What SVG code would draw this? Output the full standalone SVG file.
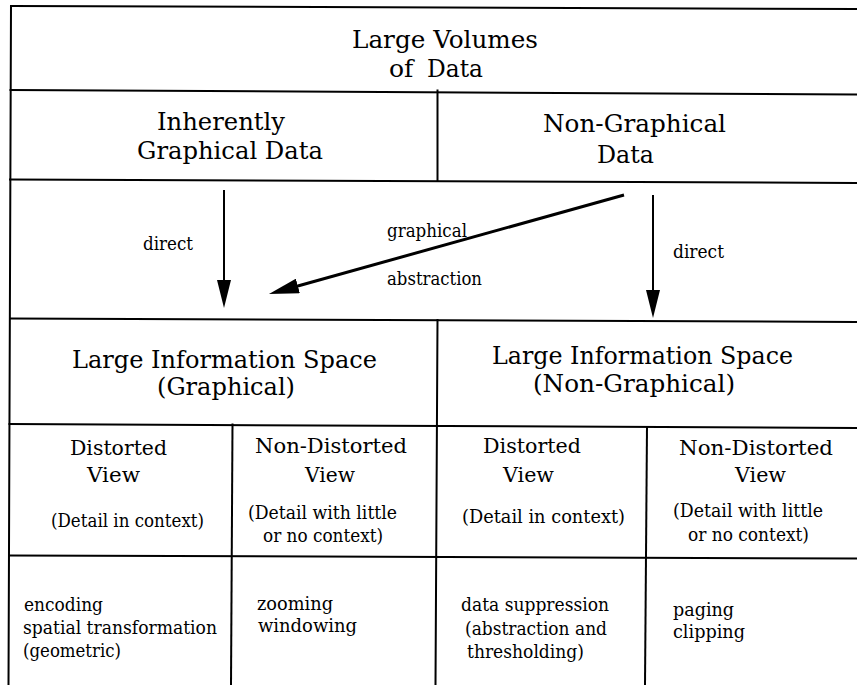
<svg xmlns="http://www.w3.org/2000/svg" width="857" height="685" viewBox="0 0 857 685">
<style>
text{font-family:"DejaVu Serif","Liberation Serif",serif;fill:#000}
.lg{font-size:25px}
.md{font-size:21px}
.sm{font-size:18px}
.grid line{stroke:#000;stroke-width:2;stroke-linecap:square}
.conn line{stroke:#000;stroke-width:2}
.conn line.thick{stroke-width:3}
</style>
<defs>
<marker id="ah" viewBox="0 0 28 14" refX="1" refY="7" markerWidth="28" markerHeight="14" markerUnits="userSpaceOnUse" orient="auto"><path d="M0,0 L28,7 L0,14 z" fill="#000"/></marker>
<marker id="ahL" viewBox="0 0 30 15" refX="1" refY="7.5" markerWidth="30" markerHeight="15" markerUnits="userSpaceOnUse" orient="auto"><path d="M0,0 L30,7.5 L0,15 z" fill="#000"/></marker>
</defs>
<rect width="857" height="685" fill="#fff"/>
<g id="grid" class="grid">
<line x1="11" y1="6" x2="857" y2="9"/>
<line x1="10.5" y1="90" x2="857" y2="94.5"/>
<line x1="10" y1="179.5" x2="857" y2="183"/>
<line x1="10" y1="318.5" x2="857" y2="322"/>
<line x1="9.5" y1="424" x2="857" y2="428"/>
<line x1="9" y1="555.5" x2="857" y2="558.5"/>
<line x1="11" y1="6" x2="8.5" y2="685"/>
<line x1="437.5" y1="90.5" x2="437.5" y2="181"/>
<line x1="437.5" y1="320" x2="435.5" y2="685"/>
<line x1="232.5" y1="424.5" x2="231" y2="685"/>
<line x1="647" y1="427" x2="645" y2="685"/>
</g>
<g id="large-volumes">
<text class="lg" x="352" y="48" textLength="186" lengthAdjust="spacingAndGlyphs">Large Volumes</text>
<text class="lg" x="389" y="77">of <tspan x="427" textLength="56" lengthAdjust="spacingAndGlyphs">Data</tspan></text>
</g>
<g id="inherently-graphical">
<text class="lg" x="157" y="130" textLength="128" lengthAdjust="spacingAndGlyphs">Inherently</text>
<text class="lg" x="137" y="159" textLength="186" lengthAdjust="spacingAndGlyphs">Graphical Data</text>
</g>
<g id="non-graphical-data">
<text class="lg" x="543" y="132" textLength="183" lengthAdjust="spacingAndGlyphs">Non-Graphical</text>
<text class="lg" x="597" y="163" textLength="57" lengthAdjust="spacingAndGlyphs">Data</text>
</g>
<g id="info-graphical">
<text class="lg" x="72" y="368" textLength="305" lengthAdjust="spacingAndGlyphs">Large Information Space</text>
<text class="lg" x="157" y="395" textLength="138" lengthAdjust="spacingAndGlyphs">(Graphical)</text>
</g>
<g id="info-non-graphical">
<text class="lg" x="492" y="364" textLength="301" lengthAdjust="spacingAndGlyphs">Large Information Space</text>
<text class="lg" x="533" y="392" textLength="202" lengthAdjust="spacingAndGlyphs">(Non-Graphical)</text>
</g>
<g id="g-distorted">
<text class="md" x="70" y="455" textLength="97" lengthAdjust="spacingAndGlyphs">Distorted</text>
<text class="md" x="87" y="482" textLength="53" lengthAdjust="spacingAndGlyphs">View</text>
<text class="sm" x="51" y="527" textLength="153" lengthAdjust="spacingAndGlyphs">(Detail in context)</text>
</g>
<g id="g-non-distorted">
<text class="md" x="255" y="453" textLength="152" lengthAdjust="spacingAndGlyphs">Non-Distorted</text>
<text class="md" x="305" y="482" textLength="50" lengthAdjust="spacingAndGlyphs">View</text>
<text class="sm" x="248" y="519" textLength="149" lengthAdjust="spacingAndGlyphs">(Detail with little</text>
<text class="sm" x="263" y="542" textLength="120" lengthAdjust="spacingAndGlyphs">or no context)</text>
</g>
<g id="n-distorted">
<text class="md" x="483" y="453" textLength="98" lengthAdjust="spacingAndGlyphs">Distorted</text>
<text class="md" x="503" y="482" textLength="51" lengthAdjust="spacingAndGlyphs">View</text>
<text class="sm" x="462" y="523" textLength="163" lengthAdjust="spacingAndGlyphs">(Detail in context)</text>
</g>
<g id="n-non-distorted">
<text class="md" x="679" y="455" textLength="154" lengthAdjust="spacingAndGlyphs">Non-Distorted</text>
<text class="md" x="735" y="482" textLength="51" lengthAdjust="spacingAndGlyphs">View</text>
<text class="sm" x="673" y="517" textLength="150" lengthAdjust="spacingAndGlyphs">(Detail with little</text>
<text class="sm" x="688" y="541" textLength="121" lengthAdjust="spacingAndGlyphs">or no context)</text>
</g>
<g id="g-distorted-techniques">
<text class="sm" x="24" y="611" textLength="79" lengthAdjust="spacingAndGlyphs">encoding</text>
<text class="sm" x="23" y="634" textLength="194" lengthAdjust="spacingAndGlyphs">spatial transformation</text>
<text class="sm" x="23" y="657" textLength="98" lengthAdjust="spacingAndGlyphs">(geometric)</text>
</g>
<g id="g-non-distorted-techniques">
<text class="sm" x="257" y="610" textLength="76" lengthAdjust="spacingAndGlyphs">zooming</text>
<text class="sm" x="258" y="632" textLength="99" lengthAdjust="spacingAndGlyphs">windowing</text>
</g>
<g id="n-distorted-techniques">
<text class="sm" x="461" y="611" textLength="148" lengthAdjust="spacingAndGlyphs">data suppression</text>
<text class="sm" x="465" y="635" textLength="142" lengthAdjust="spacingAndGlyphs">(abstraction and</text>
<text class="sm" x="467" y="658" textLength="117" lengthAdjust="spacingAndGlyphs">thresholding)</text>
</g>
<g id="n-non-distorted-techniques">
<text class="sm" x="673" y="616" textLength="61" lengthAdjust="spacingAndGlyphs">paging</text>
<text class="sm" x="673" y="638" textLength="72" lengthAdjust="spacingAndGlyphs">clipping</text>
</g>
<g id="connectors" class="conn">
<line x1="224" y1="190" x2="224" y2="281" marker-end="url(#ah)"/>
<line x1="653" y1="195" x2="653" y2="291" marker-end="url(#ah)"/>
<line class="thick" x1="624" y1="195" x2="296.9" y2="286.2" marker-end="url(#ahL)"/>
<text class="sm" x="143" y="250" textLength="50" lengthAdjust="spacingAndGlyphs">direct</text>
<text class="sm" x="387" y="237" textLength="80" lengthAdjust="spacingAndGlyphs">graphical</text>
<text class="sm" x="387" y="285" textLength="95" lengthAdjust="spacingAndGlyphs">abstraction</text>
<text class="sm" x="673" y="258" textLength="51" lengthAdjust="spacingAndGlyphs">direct</text>
</g>
</svg>
